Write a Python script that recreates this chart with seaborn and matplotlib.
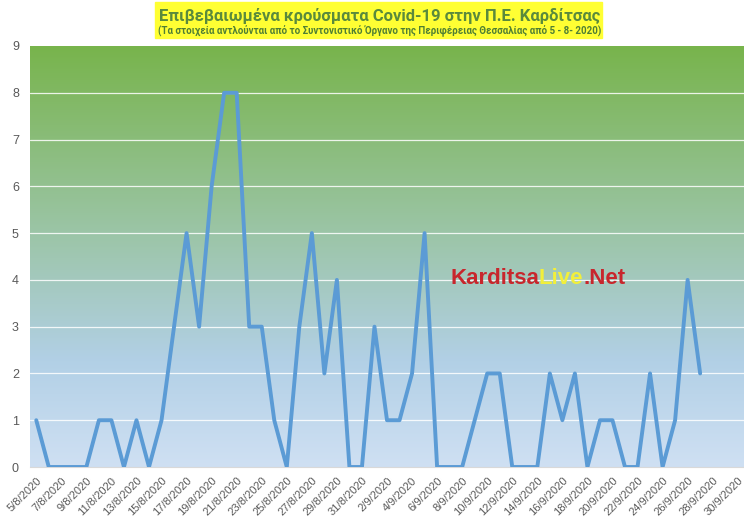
import numpy as np
import pandas as pd
import seaborn as sns
import matplotlib.pyplot as plt
from matplotlib.colors import LinearSegmentedColormap
from matplotlib.patches import Rectangle
from matplotlib.offsetbox import TextArea, HPacker, AnnotationBbox

# daily confirmed cases, 5/8/2020 .. 27/9/2020 (28-30/9 no data yet)
days = pd.date_range("2020-08-05", "2020-09-30", freq="D")
labels = [f"{d.day}/{d.month}/{d.year}" for d in days]
cases = [1, 0, 0, 0, 0, 1, 1, 0, 1, 0,
         1, 3, 5, 3, 6, 8, 8, 3, 3, 1,
         0, 3, 5, 2, 4, 0, 0, 3, 1, 1,
         2, 5, 0, 0, 0, 1, 2, 2, 0, 0,
         0, 2, 1, 2, 0, 1, 1, 0, 0, 2,
         0, 1, 4, 2]
cases = cases + [np.nan] * (len(labels) - len(cases))

df = pd.DataFrame({"pos": range(len(labels)), "date": labels, "cases": cases})

sns.set_style("white")
plt.rcParams['font.family'] = ['Liberation Sans', 'DejaVu Sans']

fig = plt.figure(figsize=(7.44, 5.24), dpi=100)
ax = fig.add_axes([30 / 744, 57 / 524, 714 / 744, 421 / 524])

# gradient background green (top) -> blue (bottom)
cmap = LinearSegmentedColormap.from_list(
    "bg", [(0.0, "#78b44c"), (0.45, "#9cc5a8"), (0.75, "#b2d0e6"), (1.0, "#cfe0f3")])
grad = np.linspace(0, 1, 256).reshape(-1, 1)
ax.imshow(grad, cmap=cmap, aspect="auto", extent=[-0.5, len(labels) - 0.5, 0, 9],
          origin="upper", zorder=0, interpolation="bicubic")

for yv in range(1, 9):
    ax.axhline(yv, color="white", lw=0.9, alpha=0.85, zorder=1)

sns.lineplot(data=df, x="pos", y="cases", ax=ax, color="#5b9bd5", lw=2.8, zorder=3)

ax.set_xlim(-0.5, len(labels) - 0.5)
ax.set_ylim(0, 9)
ax.set_yticks(range(0, 10))
ax.tick_params(axis="y", length=0, labelsize=9, labelcolor="#595959", pad=8)
ax.set_xticks(range(0, len(labels), 2))
ax.set_xticklabels(labels[::2], rotation=45, ha="right", rotation_mode="anchor",
                   fontsize=8, color="#595959")
ax.tick_params(axis="x", length=0, pad=6)
ax.set_xticks(np.arange(-0.5, len(labels), 2), minor=True)
ax.tick_params(axis="x", which="minor", length=4, color="#bfbfbf", width=0.8)
ax.set_xlabel("")
ax.set_ylabel("")
for side in ["top", "right", "left"]:
    ax.spines[side].set_visible(False)
ax.spines["bottom"].set_color("#d9d9d9")

# watermark
wm = dict(fontsize=16, fontweight="bold")
parts = [TextArea("Karditsa", textprops=dict(color="#c8262c", **wm)),
         TextArea("Live", textprops=dict(color="#f2ef3a", **wm)),
         TextArea(".Net", textprops=dict(color="#c8262c", **wm))]
box = HPacker(children=parts, align="baseline", pad=0, sep=0)
ab = AnnotationBbox(box, (450 / 744, 1 - 279 / 524), xycoords="figure fraction",
                    box_alignment=(0, 0.5), frameon=False, zorder=5)
fig.add_artist(ab)

# title banner
fig.patches.append(Rectangle((155 / 744, 1 - 38 / 524), 447 / 744, 36 / 524,
                             transform=fig.transFigure, color="#ffff33", zorder=0))
fig.text(380 / 744, 1 - 16 / 524, "Επιβεβαιωμένα κρούσματα Covid-19 στην Π.Ε. Καρδίτσας",
         ha="center", va="center", fontsize=12, fontweight="bold", color="#5a8a3c",
         family=["Roboto", "DejaVu Sans"])
fig.text(380 / 744, 1 - 31 / 524,
         "(Τα στοιχεία αντλούνται από το Συντονιστικό Όργανο της Περιφέρειας Θεσσαλίας από 5 - 8- 2020)",
         ha="center", va="center", fontsize=7, fontweight="bold", color="#4f7f33",
         family=["Roboto", "DejaVu Sans"])

fig.savefig("out.png", dpi=100)
